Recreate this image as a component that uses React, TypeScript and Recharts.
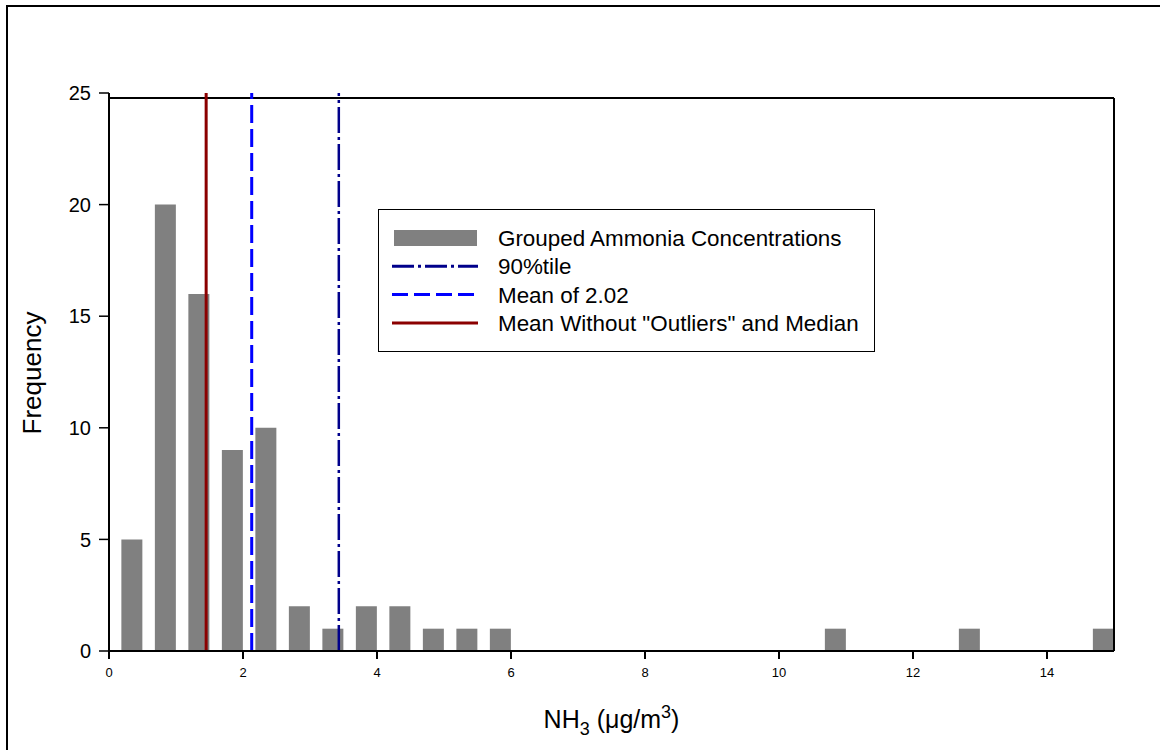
import React from "react";
import {
  Bar,
  BarChart,
  Label,
  Legend,
  ReferenceLine,
  XAxis,
  YAxis,
} from "recharts";

// histogram bins (upper edge, µg/m3) and counts
const binUpper = [0.5, 1, 1.5, 2, 2.5, 3, 3.5, 4, 4.5, 5, 5.5, 6, 11, 13, 15];
const frequency = [5, 20, 16, 9, 10, 2, 1, 2, 2, 1, 1, 1, 1, 1, 1];

const xTicks = [0, 2, 4, 6, 8, 10, 12, 14];
const yTicks = [0, 5, 10, 15, 20, 25];

// vertical markers
const percentile90 = 3.43;
const meanAll = 2.13;
const meanNoOutliers = 1.45;

const legendLabels = [
  "Grouped Ammonia Concentrations",
  "90%tile",
  "Mean of 2.02",
  'Mean Without "Outliers" and Median',
];

const FONT = "Arial, 'Liberation Sans', Helvetica, sans-serif";
const GRAY = "#808080";
const NAVY = "#00008b";
const BLUE = "#0000ff";
const DARK_RED = "#8b0000";
const DASH_DOT = "26 4 3 4";
const DASHED = "18 6";

const BAR_PX = 21;
const BAR_UNITS = 0.31; // bar width in x units, bars sit against the bin's upper edge

const data = binUpper.map((upper, i) => ({
  center: upper - BAR_UNITS / 2,
  freq: frequency[i],
}));

const LegendBox = () => {
  const rowY = (i: number) => 29 + i * 28.3;
  return (
    <svg width={498} height={144} style={{ display: "block" }}>
      <rect x={0.5} y={0.5} width={496} height={142} fill="#fff" stroke="#000" strokeWidth={1} />
      <rect x={16} y={rowY(0) - 8} width={83} height={16} fill={GRAY} />
      <line x1={14} x2={100} y1={rowY(1)} y2={rowY(1)} stroke={NAVY} strokeWidth={3} strokeDasharray="22 4 3 4" />
      <line x1={14} x2={100} y1={rowY(2)} y2={rowY(2)} stroke={BLUE} strokeWidth={3} strokeDasharray="16 6" />
      <line x1={14} x2={100} y1={rowY(3)} y2={rowY(3)} stroke={DARK_RED} strokeWidth={3} />
      {legendLabels.map((t, i) => (
        <text
          key={t}
          x={120}
          y={rowY(i)}
          dy="0.36em"
          fontSize={22.4}
          fontFamily={FONT}
          fill="#000"
        >
          {t}
        </text>
      ))}
    </svg>
  );
};

const XTitle = (props: any) => {
  const { viewBox } = props;
  const cx = viewBox.x + viewBox.width / 2;
  return (
    <text x={cx} y={728} textAnchor="middle" fontSize={25} fontFamily={FONT} fill="#000">
      NH
      <tspan dy={7} fontSize={18}>3</tspan>
      <tspan dy={-7}> (μg/m</tspan>
      <tspan dy={-10} fontSize={18}>3</tspan>
      <tspan dy={10}>)</tspan>
    </text>
  );
};

const YTitle = () => (
  <text
    x={32}
    y={373}
    textAnchor="middle"
    dominantBaseline="central"
    fontSize={26}
    fontFamily={FONT}
    fill="#000"
    transform="rotate(-90, 32, 373)"
  >
    Frequency
  </text>
);

export default function App() {
  return (
    <div style={{ position: "absolute", left: 0, top: 0, width: 1160, height: 750, background: "#fff" }}>
      <div
        style={{
          position: "absolute",
          left: 6,
          top: 5,
          width: 1154,
          height: 745,
          borderLeft: "2px solid #000",
          borderTop: "2px solid #000",
          boxSizing: "border-box",
        }}
      />
      <BarChart
        width={1160}
        height={750}
        data={data}
        margin={{ top: 93, right: 46, bottom: 39, left: 9 }}
        style={{ position: "absolute", left: 0, top: 0, fontFamily: FONT }}
      >
        <XAxis
          type="number"
          dataKey="center"
          domain={[0, 15]}
          ticks={xTicks}
          allowDecimals={false}
          height={60}
          tickSize={8}
          tickMargin={9}
          axisLine={{ stroke: "#000", strokeWidth: 2 }}
          tickLine={{ stroke: "#000", strokeWidth: 2 }}
          tick={{ fill: "#000", fontSize: 13, fontFamily: FONT }}
        >
          <Label content={<XTitle />} />
        </XAxis>
        <YAxis
          type="number"
          domain={[0, 25]}
          ticks={yTicks}
          width={100}
          tickSize={10}
          tickMargin={8}
          axisLine={{ stroke: "#000", strokeWidth: 2 }}
          tickLine={{ stroke: "#000", strokeWidth: 1.5 }}
          tick={{ fill: "#000", fontSize: 20, fontFamily: FONT }}
        >
          <Label content={<YTitle />} />
        </YAxis>
        <Bar dataKey="freq" fill={GRAY} barSize={BAR_PX} isAnimationActive={false} />
        <ReferenceLine
          segment={[{ x: 0, y: 24.78 }, { x: 15, y: 24.78 }]}
          stroke="#000"
          strokeWidth={2}
        />
        <ReferenceLine
          segment={[{ x: 15, y: 0 }, { x: 15, y: 24.78 }]}
          stroke="#000"
          strokeWidth={2}
        />
        <ReferenceLine x={meanNoOutliers} stroke={DARK_RED} strokeWidth={3} />
        <ReferenceLine x={meanAll} stroke={BLUE} strokeWidth={3} strokeDasharray={DASHED} />
        <ReferenceLine x={percentile90} stroke={NAVY} strokeWidth={2.5} strokeDasharray={DASH_DOT} />
        <Legend
          layout="vertical"
          align="center"
          verticalAlign="middle"
          content={<LegendBox />}
          wrapperStyle={{ left: 378, top: 209, width: 498, height: 144 }}
        />
      </BarChart>
    </div>
  );
}
